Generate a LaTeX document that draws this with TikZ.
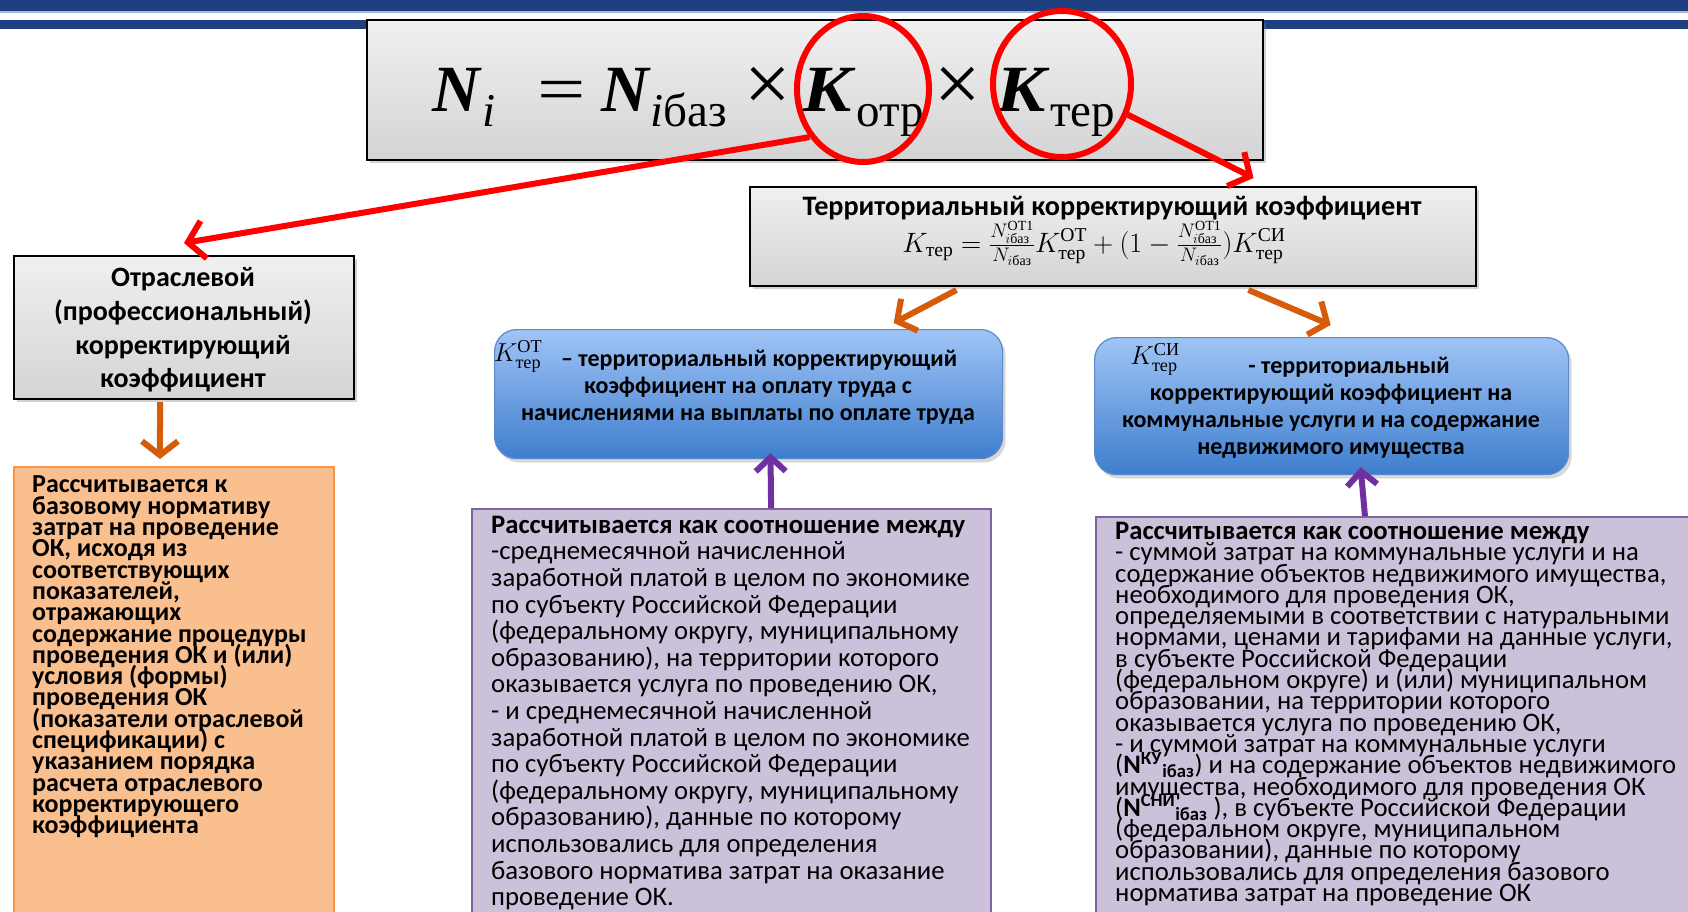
\documentclass[tikz,border=0pt]{standalone}
\usepackage{fix-cm}
\usepackage{amsmath}
\usepackage{graphicx}
\usepackage{fontspec}
\setmainfont{Carlito}
\newfontfamily\fser{Liberation Serif}
\usetikzlibrary{arrows.meta,shadows,calc,shapes.geometric}
\definecolor{navy}{RGB}{31,64,128}
\definecolor{bandlight}{RGB}{170,185,210}
\definecolor{grayA}{RGB}{240,240,240}
\definecolor{grayB}{RGB}{212,212,212}
\definecolor{blueA}{RGB}{160,196,246}
\definecolor{blueB}{RGB}{62,126,206}
\definecolor{blueE}{RGB}{92,138,200}
\definecolor{orFill}{RGB}{250,191,143}
\definecolor{orEdge}{RGB}{247,150,70}
\definecolor{puFill}{RGB}{204,193,218}
\definecolor{puEdge}{RGB}{128,100,162}
\definecolor{arrOr}{RGB}{214,92,10}
\definecolor{arrPu}{RGB}{112,48,160}
\definecolor{arrRed}{RGB}{255,0,0}
\newcommand\rz[1]{\text{\fser #1}}
\newcommand\pc[2]{\makebox[#1][l]{#2}}
\newcommand\sbs[1]{\raisebox{-15pt}{\fontsize{47}{47}\selectfont #1}}
\newcommand\bigK{\scalebox{1.12}[1]{\textbf{\textit{K}}}}
\newcommand\tightls{\lineskiplimit -100pt\relax\lineskip 0pt\relax}
\begin{document}
\begin{tikzpicture}[x=1pt,y=-1pt,
  graybox/.style={draw=black, line width=2pt, top color=grayA, bottom color=grayB,
    drop shadow={opacity=0.35,shadow xshift=3pt,shadow yshift=-3pt}, inner sep=0, anchor=north west},
  bluebox/.style={draw=blueE, line width=1.2pt, rounded corners=22pt, top color=blueA, bottom color=blueB,
    drop shadow={opacity=0.3,shadow xshift=3pt,shadow yshift=-4pt}, inner sep=0, anchor=north west},
  orbox/.style={draw=orEdge, line width=1.5pt, fill=orFill, inner sep=0, anchor=north west},
  pubox/.style={draw=puEdge, line width=2pt, fill=puFill, inner sep=0, anchor=north west},
  redell/.style={draw=arrRed, line width=6pt, ellipse, inner sep=0},
  redarr/.style={draw=arrRed, line width=6pt, -{Straight Barb[length=16pt,width=38pt]}},
  orarr/.style={draw=arrOr, line width=6pt, -{Straight Barb[length=14pt,width=36pt]}},
  puarr/.style={draw=arrPu, line width=6pt, -{Straight Barb[length=14pt,width=30pt]}},
  txt/.style={inner sep=0}
]
\clip (0,0) rectangle (1688,912);
\path[use as bounding box] (0,0) rectangle (1688,912);
\fill[white] (0,0) rectangle (1688,912);
% top bands
\fill[navy] (0,0) rectangle (1688,11);
\fill[bandlight] (0,11) rectangle (1688,13);
\fill[navy] (0,20) rectangle (1688,29);

% boxes
\node[graybox, minimum width=896, minimum height=140] (fbox) at (366,19) {};
\node[graybox, minimum width=726, minimum height=99] (ter) at (749,186) {};
\node[graybox, minimum width=340, minimum height=143] (otr) at (13,255) {};
\node[orbox, minimum width=320, minimum height=470] (or) at (13,466) {};
\node[bluebox, minimum width=508, minimum height=129] (b1) at (494,329) {};
\node[bluebox, minimum width=474, minimum height=137] (b2) at (1094,337) {};
\node[pubox, minimum width=519, minimum height=420] (p1) at (471,508) {};
\node[pubox, minimum width=620, minimum height=410] (p2) at (1095,516) {};

% main formula
\node[txt, anchor=base west, font=\fser\fontsize{66}{66}\selectfont] (fml) at (432,112)
 {\pc{50pt}{\textbf{\textit{N}}}\pc{55pt}{\sbs{\textit{i}}}\pc{64pt}{\scalebox{1.3}[1]{=}}\pc{49pt}{\textbf{\textit{N}}}\pc{94pt}{\sbs{\textit{i}баз}}\pc{58pt}{\scalebox{1.25}{×}}\pc{54pt}{\bigK}\pc{78pt}{\sbs{отр}}\pc{62pt}{\scalebox{1.25}{×}}\pc{54pt}{\bigK}\sbs{тер}};

% ellipses
\node[redell, minimum width=132, minimum height=146] (e1) at (863,89) {};
\node[redell, minimum width=138, minimum height=146] (e2) at (1062,84) {};

% territorial box text
\node[txt, font=\fontsize{28.2}{32}\selectfont\bfseries] (tertitle) at (1112,208) {Территориальный корректирующий коэффициент};
\node[txt, font=\fontsize{28}{32}\selectfont] (terfml) at (1094,243)
 {$K_{\rz{тер}} = \frac{N^{\rz{ОТ1}}_{i\rz{баз}}}{N_{i\rz{баз}}}K^{\rz{ОТ}}_{\rz{тер}} + (1 - \frac{N^{\rz{ОТ1}}_{i\rz{баз}}}{N_{i\rz{баз}}})K^{\rz{СИ}}_{\rz{тер}}$};

% otraslevoy
\node[txt, align=center, font=\fontsize{28}{33.7}\selectfont\bfseries] (otrtxt) at (183,330)
 {Отраслевой\\(профессиональный)\\корректирующий\\коэффициент};

% blue 1
\node[txt, font=\fontsize{26}{28}\selectfont] (k1) at (518,356) {$K^{\rz{ОТ}}_{\rz{тер}}$};
\node[txt, align=center, font=\fontsize{24}{27}\selectfont\bfseries] (b1txt) at (748,387)
 {\hspace*{22pt}– территориальный корректирующий\\коэффициент на оплату труда с\\начислениями на выплаты по оплате труда};

% blue 2
\node[txt, font=\fontsize{26}{28}\selectfont] (k2) at (1155,359) {$K^{\rz{СИ}}_{\rz{тер}}$};
\node[txt, align=center, font=\fontsize{24}{27}\selectfont\bfseries] (b2txt) at (1331,408)
 {\hspace*{36pt}- территориальный\\корректирующий коэффициент на\\коммунальные услуги и на содержание\\недвижимого имущества};

% orange text
\node[txt, anchor=west, align=left, font=\fontsize{26}{21.3}\selectfont\bfseries\tightls] (ortxt) at (32,657)
 {Рассчитывается к\\базовому нормативу\\затрат на проведение\\ОК, исходя из\\соответствующих\\показателей,\\отражающих\\содержание процедуры\\проведения ОК и (или)\\условия (формы)\\проведения ОК\\(показатели отраслевой\\спецификации) с\\указанием порядка\\расчета отраслевого\\корректирующего\\коэффициента};

% purple 1 text
\node[txt, anchor=west, align=left, font=\fontsize{26.7}{26.6}\selectfont\tightls] (p1txt) at (491,713)
 {\textbf{Рассчитывается как соотношение между}\\-среднемесячной начисленной\\заработной платой в целом по экономике\\по субъекту Российской Федерации\\(федеральному округу, муниципальному\\образованию), на территории которого\\оказывается услуга по проведению ОК,\\- и среднемесячной начисленной\\заработной платой в целом по экономике\\по субъекту Российской Федерации\\(федеральному округу, муниципальному\\образованию), данные по которому\\использовались для определения\\базового норматива затрат на оказание\\проведение ОК.};

% purple 2 text
\node[txt, anchor=west, align=left, font=\fontsize{26.7}{21.3}\selectfont\tightls] (p2txt) at (1115,714)
 {\textbf{Рассчитывается как соотношение между}\\- суммой затрат на коммунальные услуги и на\\содержание объектов недвижимого имущества,\\необходимого для проведения ОК,\\определяемыми в соответствии с натуральными\\нормами, ценами и тарифами на данные услуги,\\в субъекте Российской Федерации\\(федеральном округе) и (или) муниципальном\\образовании, на территории которого\\оказывается услуга по проведению ОК,\\- и суммой затрат на коммунальные услуги\\(\textbf{N}\textsuperscript{\textbf{КУ}}\textsubscript{\textbf{iбаз}}) и на содержание объектов недвижимого\\имущества, необходимого для проведения ОК\\(\textbf{N}\textsuperscript{\textbf{СНИ}}\textsubscript{\textbf{iбаз}} ), в субъекте Российской Федерации\\(федеральном округе, муниципальном\\образовании), данные по которому\\использовались для определения базового\\норматива затрат на проведение ОК};

% arrows
\draw[redarr] (e1.222) -- ([yshift=12pt]otr.north);
\draw[redarr] (e2.-25) -- ($(ter.north west)!0.693!(ter.north east)+(0,-8)$);
\draw[orarr] ($(ter.south west)!0.285!(ter.south east)+(0,3)$) -- ($(b1.north west)!0.785!(b1.north east)+(0,-6)$);
\draw[orarr] ($(ter.south west)!0.686!(ter.south east)+(0,3)$) -- ($(b2.north west)!0.498!(b2.north east)+(0,-12)$);
\draw[orarr] ($(otr.south west)!0.43!(otr.south east)+(0,2)$) -- ($(or.north west)!0.457!(or.north east)+(0,-7)$);
\draw[puarr] ($(p1.north west)!0.576!(p1.north east)$) -- ($(b1.south west)!0.543!(b1.south east)+(0,-6)$);
\draw[puarr] ($(p2.north west)!0.434!(p2.north east)$) -- ($(b2.south west)!0.561!(b2.south east)+(0,-8)$);
\end{tikzpicture}
\end{document}
